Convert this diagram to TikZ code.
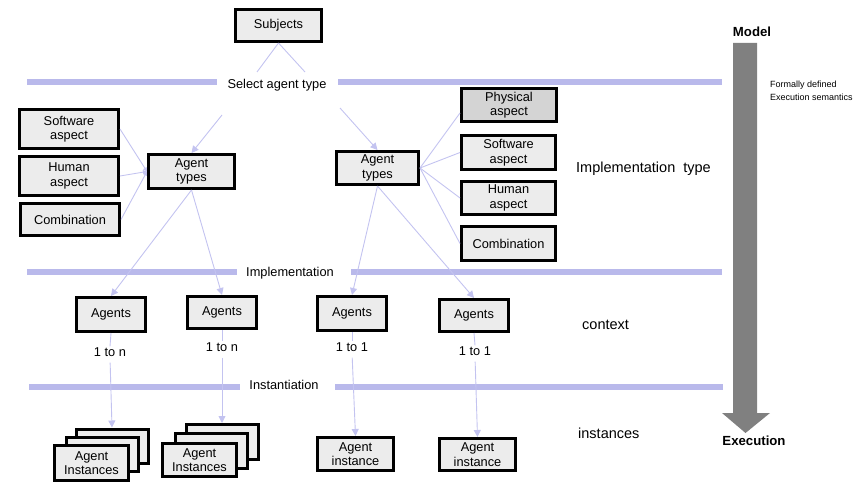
\documentclass[tikz,border=0pt]{standalone}
\usepackage{fontspec}
\setmainfont{Liberation Sans}
\usetikzlibrary{arrows.meta}

\definecolor{bandblue}{RGB}{185,185,235}
\definecolor{linkblue}{RGB}{195,195,240}
\definecolor{boxgray}{RGB}{236,236,236}
\definecolor{darkbox}{RGB}{212,212,212}
\definecolor{bigarrow}{RGB}{128,128,128}

\tikzset{
  box/.style={draw, line width=3pt, fill=boxgray, align=center, inner sep=0pt,
    font=\fontsize{12.8}{14.5}\selectfont},
  band/.style={bandblue, line width=6pt},
  link/.style={linkblue, line width=0.9pt},
  linkarrow/.style={link, -{Triangle[length=7pt,width=7pt]}},
  smallarrow/.style={link, -{Triangle[length=4pt,width=4pt]}},
  lbl/.style={font=\fontsize{12.8}{14.5}\selectfont, inner sep=1pt},
  side/.style={font=\fontsize{14.5}{16}\selectfont, inner sep=0pt},
}

\begin{document}
\begin{tikzpicture}[x=1pt,y=-1pt]
\useasboundingbox (0,0) rectangle (866,497);

% levels
\draw [band] (27,82) -- (217,82);
\draw [band] (338,82) -- (722,82);
\draw [band] (27,272) -- (237,272);
\draw [band] (351,272) -- (722,272);
\draw [band] (29,387) -- (240,387);
\draw [band] (335,387) -- (723,387);
\node [lbl] (sel) at (277,85) {Select agent type};
\node [lbl] (impl) at (290,273) {Implementation};
\node [lbl] (inst) at (284,385) {Instantiation};

\node [box, minimum width=86pt, minimum height=32pt] (subj) at (278.5,25.5) {Subjects};
\coordinate (selnw) at (257,72);
\coordinate (selne) at (305,72);
\coordinate (selsw) at (222,115);
\coordinate (selse) at (340,108);
\draw [link] (subj.south) -- (selnw);
\draw [link] (subj.south) -- (selne);

% left agent types
\node [box, minimum width=99pt, minimum height=39pt] (swL) at (69,129) {Software\\aspect};
\node [box, minimum width=99pt, minimum height=39pt] (huL) at (69,176) {Human\\aspect};
\node [box, minimum width=99pt, minimum height=32pt] (coL) at (70,219.5) {Combination};
\node [box, minimum width=86pt, minimum height=34pt] (typL) at (191.5,171.5) {Agent\\types};
\draw [linkarrow] (selsw) -- (typL.north);
\draw [smallarrow] (swL.east) -- (typL.west);
\draw [smallarrow] (huL.east) -- (typL.west);
\draw [smallarrow] (coL.east) -- (typL.west);

% right agent types
\node [box, minimum width=82pt, minimum height=33pt] (typR) at (377.5,168) {Agent\\types};
\node [box, fill=darkbox, minimum width=95pt, minimum height=33pt] (phR) at (509,105) {Physical\\aspect};
\node [box, minimum width=94pt, minimum height=34pt] (swR) at (508.5,152.5) {Software\\aspect};
\node [box, minimum width=94pt, minimum height=33pt] (huR) at (508.5,198) {Human\\aspect};
\node [box, minimum width=94pt, minimum height=34pt] (coR) at (508.5,243.5) {Combination};
\draw [linkarrow] (selse) -- (typR.north);
\draw [link] (typR.east) -- ([yshift=-8pt]phR.west);
\draw [link] (typR.east) -- (swR.west);
\draw [link] (typR.east) -- (huR.west);
\draw [link] (typR.east) -- (coR.west);

% agents
\node [box, minimum width=69pt, minimum height=34pt] (ag1) at (111,314.5) {Agents};
\node [box, minimum width=69pt, minimum height=32pt] (ag2) at (222,312.5) {Agents};
\node [box, minimum width=69pt, minimum height=34pt] (ag3) at (352,313.5) {Agents};
\node [box, minimum width=69pt, minimum height=32pt] (ag4) at (474,315.5) {Agents};
\draw [linkarrow] (typL.south) -- (ag1.north);
\draw [linkarrow] (typL.south) -- (ag2.north);
\draw [linkarrow] (typR.south) -- (ag3.north);
\draw [linkarrow] (typR.south) -- (ag4.north);

\node [lbl] (n1) at (110,352) {1 to n};
\node [lbl] (n2) at (222,347) {1 to n};
\node [lbl] (n3) at (352,347) {1 to 1};
\node [lbl] (n4) at (475,351) {1 to 1};
\foreach \i in {1,2,3,4}
  \draw [link] (ag\i.south) -- (n\i.north);

% instances
\node [box, minimum width=72pt, minimum height=34pt] (in1c) at (112,446) {};
\node [box, minimum width=72pt, minimum height=34pt] (in1b) at (102,454.5) {};
\node [box, minimum width=74pt, minimum height=35pt] (in1) at (91.5,463) {Agent\\Instances};
\node [box, minimum width=72pt, minimum height=35pt] (in2c) at (222,442) {};
\node [box, minimum width=72pt, minimum height=35pt] (in2b) at (211,451) {};
\node [box, minimum width=74pt, minimum height=33pt] (in2) at (199.5,460) {Agent\\Instances};
\node [box, minimum width=76pt, minimum height=33pt] (in3) at (355.5,454) {Agent\\instance};
\node [box, minimum width=76pt, minimum height=32pt] (in4) at (477.5,454.5) {Agent\\instance};
\draw [linkarrow, shorten <=5pt] (n1.south) -- (in1c.north);
\draw [linkarrow, shorten <=5pt] (n2.south) -- (in2c.north);
\draw [linkarrow, shorten <=5pt] (n3.south) -- (in3.north);
\draw [linkarrow, shorten <=5pt] (n4.south) -- (in4.north);

% right side
\node [side, anchor=west] (ltype) at (576,169) {Implementation~ type};
\node [side, anchor=west] (lctx) at (582,325) {context};
\node [side, anchor=west] (linst) at (578,433) {instances};

\fill [bigarrow] (733,43) -- (757,43) -- (757,413) -- (770,413) -- (745.5,433)
  -- (722,413) -- (733,413) -- cycle;
\node [font=\fontsize{13.2}{15}\selectfont\bfseries] (model) at (752,32) {Model};
\node [font=\fontsize{13.2}{15}\selectfont\bfseries] (exec) at (754,441) {Execution};
\node [font=\fontsize{9}{13}\selectfont, align=left, anchor=west, inner sep=0pt] (sem) at (770,90.5)
  {Formally defined\\Execution semantics};

\end{tikzpicture}
\end{document}
